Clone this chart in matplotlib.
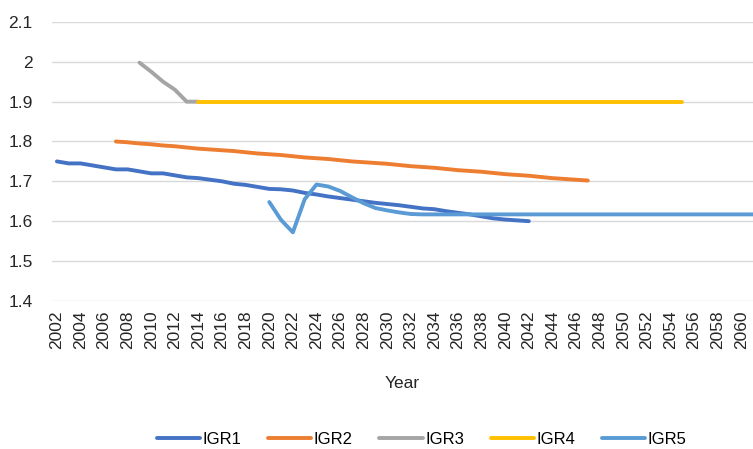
import matplotlib.pyplot as plt

plt.rcParams['font.family'] = ['Liberation Sans', 'DejaVu Sans']

# Data
years1 = list(range(2002, 2043))
igr1 = [1.750, 1.745, 1.745, 1.740, 1.735, 1.730, 1.730, 1.725, 1.720, 1.720,
        1.715, 1.710, 1.708, 1.704, 1.700, 1.694, 1.691, 1.686, 1.681, 1.680,
        1.677, 1.671, 1.667, 1.662, 1.658, 1.654, 1.650, 1.646, 1.643, 1.640,
        1.636, 1.632, 1.630, 1.625, 1.621, 1.617, 1.612, 1.607, 1.604, 1.602,
        1.600]

years2 = list(range(2007, 2048))
igr2 = [1.800, 1.798, 1.795, 1.793, 1.790, 1.788, 1.785, 1.782, 1.780, 1.778,
        1.776, 1.773, 1.770, 1.768, 1.766, 1.763, 1.760, 1.758, 1.756, 1.753,
        1.750, 1.748, 1.746, 1.744, 1.741, 1.738, 1.736, 1.734, 1.731, 1.728,
        1.726, 1.724, 1.721, 1.718, 1.716, 1.714, 1.711, 1.708, 1.706, 1.704,
        1.702]

years3 = [2009, 2010, 2011, 2012, 2013, 2014]
igr3 = [1.998, 1.975, 1.950, 1.930, 1.900, 1.900]

years4 = list(range(2014, 2056))
igr4 = [1.900] * len(years4)

years5 = list(range(2020, 2062))
igr5 = [1.648, 1.603, 1.572, 1.655, 1.692, 1.687, 1.676, 1.660, 1.645, 1.633,
        1.627, 1.622, 1.618] + [1.617] * 29

series = [
    ('IGR1', years1, igr1, '#4472C4'),
    ('IGR2', years2, igr2, '#ED7D31'),
    ('IGR3', years3, igr3, '#A5A5A5'),
    ('IGR4', years4, igr4, '#FFC000'),
    ('IGR5', years5, igr5, '#5B9BD5'),
]

fig = plt.figure(figsize=(7.53, 4.49), dpi=100)
ax = fig.add_axes([0.069, 0.330, 0.931, 0.621])

for name, xs, ys, color in series:
    ax.plot(xs, ys, color=color, linewidth=2.8, label=name,
            solid_capstyle='round', solid_joinstyle='round')

ax.set_xlim(2001.58, 2061.0)
ax.set_ylim(1.4, 2.1)
ax.set_yticks([1.4, 1.5, 1.6, 1.7, 1.8, 1.9, 2.0, 2.1])
ax.set_yticklabels(['1.4', '1.5', '1.6', '1.7', '1.8', '1.9', '2', '2.1'])
ax.set_xticks(list(range(2002, 2061, 2)))
ax.set_xticklabels([str(y) for y in range(2002, 2061, 2)], rotation=90)
ax.tick_params(axis='both', length=0, labelsize=12.5, colors='#262626')
ax.tick_params(axis='y', pad=14)
ax.tick_params(axis='x', pad=7)
ax.grid(axis='y', color='#D9D9D9', linewidth=1)
ax.set_axisbelow(True)
for s in ax.spines.values():
    s.set_visible(False)

ax.set_xlabel('Year', fontsize=12.5, color='#262626', labelpad=19)

fig.legend(loc='center', bbox_to_anchor=(0.56, 0.022), ncol=5, frameon=False,
           fontsize=12, handlelength=2.6, handletextpad=0.15, columnspacing=1.6)

fig.savefig('out.png', dpi=100)
